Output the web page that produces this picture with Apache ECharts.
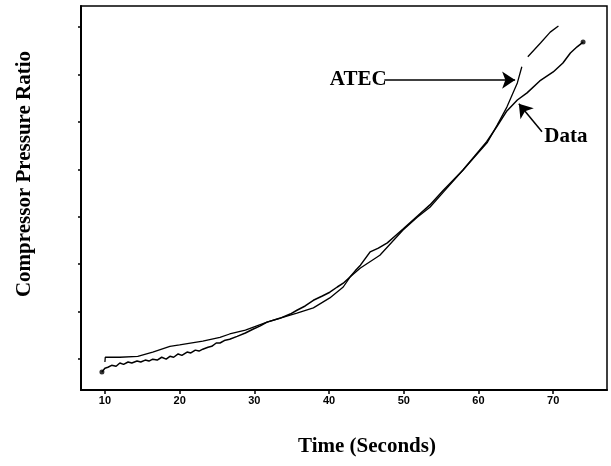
<!DOCTYPE html>
<html>
<head>
<meta charset="utf-8">
<script src="https://cdn.jsdelivr.net/npm/echarts@6/dist/echarts.min.js"></script>
<style>
  html, body { margin: 0; padding: 0; background: #fff; }
  #chart { width: 611px; height: 466px; }
</style>
</head>
<body>
<div id="chart"></div>
<script>
// ATEC model (smooth curve), null = gap in the dashed top part
const atecTime = [10.0, 10.05, 12.0, 14.4, 16.4, 18.7, 20.0, 23.1, 25.4, 26.7, 28.8, 31.7, 34.8, 35.7, 37.9, 40.1, 41.9, 42.8, 44.2, 46.8, 49.9, 51.8, 53.5, 55.3, 57.9, 61.2, 62.5, 63.8, 65.2, 65.8, 66.2, 66.6, 68.3, 69.6, 70.7];
const atecRatio = [0.94, 1.04, 1.04, 1.06, 1.15, 1.27, 1.30, 1.38, 1.46, 1.53, 1.61, 1.78, 1.93, 1.97, 2.08, 2.29, 2.52, 2.73, 2.92, 3.19, 3.72, 3.99, 4.20, 4.52, 4.98, 5.57, 5.93, 6.31, 6.82, 7.16, null, 7.37, 7.66, 7.89, 8.02];

// measured data (noisy curve)
const dataTime = [9.6, 10.0, 10.4, 10.9, 11.5, 12.0, 12.5, 13.1, 13.6, 14.3, 14.8, 15.4, 15.9, 16.4, 17.0, 17.6, 18.2, 18.7, 19.2, 19.8, 20.3, 21.0, 21.5, 22.1, 22.6, 23.1, 23.8, 24.3, 24.9, 25.4, 26.1, 26.7, 27.7, 28.8, 29.8, 30.8, 31.7, 33.4, 34.8, 35.7, 36.8, 37.9, 39.1, 40.1, 41.1, 41.9, 42.8, 43.5, 44.2, 45.5, 46.6, 47.8, 48.8, 49.9, 51.8, 53.5, 55.3, 56.6, 57.9, 59.5, 61.1, 62.5, 63.8, 65.2, 66.5, 68.2, 70.0, 71.3, 72.3, 73.2, 74.0];
const dataRatio = [0.73, 0.81, 0.83, 0.87, 0.85, 0.92, 0.89, 0.94, 0.92, 0.96, 0.94, 0.98, 0.96, 1.00, 0.98, 1.04, 1.00, 1.06, 1.04, 1.11, 1.08, 1.15, 1.13, 1.19, 1.17, 1.21, 1.25, 1.27, 1.34, 1.34, 1.40, 1.42, 1.48, 1.55, 1.63, 1.70, 1.78, 1.86, 1.95, 2.03, 2.12, 2.24, 2.33, 2.41, 2.52, 2.60, 2.73, 2.86, 2.98, 3.26, 3.34, 3.45, 3.59, 3.74, 4.01, 4.25, 4.56, 4.77, 4.98, 5.28, 5.58, 5.91, 6.23, 6.46, 6.61, 6.86, 7.05, 7.24, 7.45, 7.58, 7.68];

const xTicks = [10, 20, 30, 40, 50, 60, 70];
const yTicks = [1, 2, 3, 4, 5, 6, 7, 8];

// annotation anchors (data units)
const atecArrow = [[47.4, 6.88], [64.9, 6.88]];
const atecLabelAt = [43.9, 6.88];
const dataArrow = [[68.5, 5.79], [65.4, 6.38]];
const dataLabelAt = [71.7, 5.68];

const serif = "'Liberation Serif', 'Times New Roman', serif";
const black = "#000";

const chart = echarts.init(document.getElementById("chart"));

const atecPoints = atecTime.map((t, i) => [t, atecRatio[i] === null ? "-" : atecRatio[i]]);
const dataPoints = dataTime.map((t, i) => [t, dataRatio[i]]);
const ends = [dataPoints[0], dataPoints[dataPoints.length - 1]];

const labelStyle = {
  show: true,
  position: "inside",
  color: black,
  fontFamily: serif,
  fontWeight: "bold",
  fontSize: 21,
};

const arrowStyle = {
  silent: true,
  symbol: ["none", "arrow"],
  symbolSize: 13,
  itemStyle: { color: black },
  lineStyle: { color: black, width: 1.5, type: "solid" },
  label: { show: false },
};

chart.setOption({
  animation: false,
  grid: {
    left: 81,
    right: 4,
    top: 6,
    bottom: 76,
    show: true,
    borderColor: black,
    borderWidth: 1.5,
  },
  xAxis: {
    type: "value",
    min: 6.8,
    max: 77.2,
    name: "Time (Seconds)",
    nameLocation: "middle",
    nameGap: 46,
    nameTextStyle: {
      color: black,
      fontFamily: serif,
      fontWeight: "bold",
      fontSize: 21,
      padding: [0, 0, 0, 46],
    },
    axisLine: { lineStyle: { color: black, width: 2 } },
    axisTick: { customValues: xTicks, length: 4, lineStyle: { color: black, width: 1.5 } },
    axisLabel: {
      customValues: xTicks,
      margin: 5,
      color: black,
      fontFamily: "'Liberation Sans Narrow', 'Liberation Sans', sans-serif",
      fontWeight: "bold",
      fontSize: 11,
    },
    splitLine: { show: false },
  },
  yAxis: {
    type: "value",
    min: 0.35,
    max: 8.44,
    name: "Compressor Pressure Ratio",
    nameLocation: "middle",
    nameGap: 46,
    nameRotate: 90,
    nameTextStyle: {
      color: black,
      fontFamily: serif,
      fontWeight: "bold",
      fontSize: 21,
      padding: [0, 0, 0, 48],
    },
    axisLine: { lineStyle: { color: black, width: 2 } },
    axisTick: { customValues: yTicks, length: 3, lineStyle: { color: black, width: 1.5 } },
    axisLabel: { show: false },
    splitLine: { show: false },
  },
  series: [
    {
      name: "ATEC",
      type: "line",
      data: atecPoints,
      symbol: "none",
      connectNulls: false,
      lineStyle: { color: black, width: 1.3 },
      markLine: Object.assign({}, arrowStyle, {
        data: [[{ coord: atecArrow[0] }, { coord: atecArrow[1] }]],
      }),
      markPoint: {
        silent: true,
        symbol: "circle",
        symbolSize: 0,
        label: labelStyle,
        data: [{ coord: atecLabelAt, label: { formatter: "ATEC" } }],
      },
    },
    {
      name: "Data",
      type: "line",
      data: dataPoints,
      symbol: "none",
      lineStyle: { color: black, width: 1.5 },
      markLine: Object.assign({}, arrowStyle, {
        data: [[{ coord: dataArrow[0] }, { coord: dataArrow[1] }]],
      }),
      markPoint: {
        silent: true,
        symbol: "circle",
        symbolSize: 0,
        label: labelStyle,
        data: [{ coord: dataLabelAt, label: { formatter: "Data" } }],
      },
    },
    {
      name: "ends",
      type: "scatter",
      data: ends,
      symbol: "circle",
      symbolSize: 5,
      itemStyle: { color: black },
    },
  ],
});
</script>
</body>
</html>
